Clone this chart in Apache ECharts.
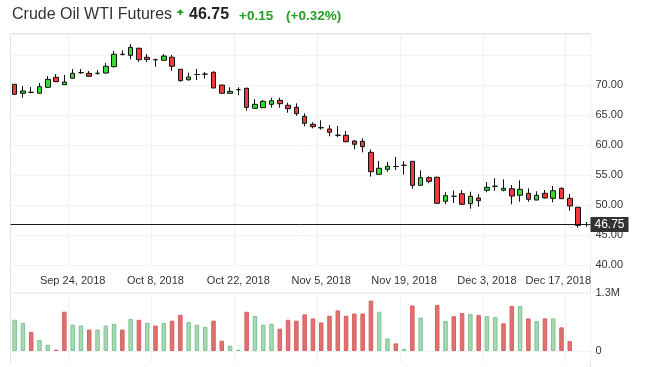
<!DOCTYPE html>
<html><head><meta charset="utf-8">
<script src="https://cdn.jsdelivr.net/npm/echarts@6/dist/echarts.min.js"></script>
<style>html,body{margin:0;padding:0;background:#fff}#c{width:647px;height:367px}</style>
</head><body><div id="c"></div><script>
const dates = ['Sep 13, 2018','Sep 14, 2018','Sep 17, 2018','Sep 18, 2018','Sep 19, 2018','Sep 20, 2018','Sep 21, 2018',
'Sep 24, 2018','Sep 25, 2018','Sep 26, 2018','Sep 27, 2018','Sep 28, 2018','Oct 1, 2018','Oct 2, 2018','Oct 3, 2018','Oct 4, 2018','Oct 5, 2018',
'Oct 8, 2018','Oct 9, 2018','Oct 10, 2018','Oct 11, 2018','Oct 12, 2018','Oct 15, 2018','Oct 16, 2018','Oct 17, 2018','Oct 18, 2018','Oct 19, 2018',
'Oct 22, 2018','Oct 23, 2018','Oct 24, 2018','Oct 25, 2018','Oct 26, 2018','Oct 29, 2018','Oct 30, 2018','Oct 31, 2018','Nov 1, 2018','Nov 2, 2018',
'Nov 5, 2018','Nov 6, 2018','Nov 7, 2018','Nov 8, 2018','Nov 9, 2018','Nov 12, 2018','Nov 13, 2018','Nov 14, 2018','Nov 15, 2018','Nov 16, 2018',
'Nov 19, 2018','Nov 20, 2018','Nov 21, 2018','Nov 22, 2018','Nov 23, 2018','Nov 26, 2018','Nov 27, 2018','Nov 28, 2018','Nov 29, 2018','Nov 30, 2018',
'Dec 3, 2018','Dec 4, 2018','Dec 5, 2018','Dec 6, 2018','Dec 7, 2018','Dec 10, 2018','Dec 11, 2018','Dec 12, 2018','Dec 13, 2018','Dec 14, 2018',
'Dec 17, 2018','Dec 18, 2018','Dec 19, 2018'];
const opens = [70.12,68.62,68.78,68.62,69.62,71.28,70.05,71.12,72.05,71.95,
71.95,72.00,73.05,75.12,74.95,76.12,74.62,74.22,74.12,74.62,
72.62,70.88,71.75,71.80,72.12,70.00,68.62,69.22,69.45,66.12,
66.22,66.78,67.45,66.62,66.28,64.78,63.45,62.88,62.67,61.62,
61.62,60.67,60.62,58.78,55.12,55.95,56.42,56.62,57.28,53.28,
54.55,54.62,50.62,51.45,51.88,50.22,51.17,52.45,53.12,52.45,
52.72,51.62,51.95,50.83,51.95,51.12,52.78,51.12,49.62,46.75];
const closes = [68.45,69.00,68.78,69.72,70.95,70.55,70.50,71.95,72.05,71.45,
71.95,73.12,75.12,75.10,76.28,74.22,74.25,74.20,74.83,73.12,
70.72,71.33,71.75,71.80,69.50,68.62,68.95,69.22,66.28,66.78,
67.28,67.38,66.88,66.05,65.22,63.62,63.05,62.88,62.12,61.62,
60.55,60.12,59.72,55.55,56.12,56.45,56.42,56.62,53.28,54.55,
53.95,50.28,51.55,51.45,50.12,51.45,50.72,52.95,53.12,52.78,
51.50,52.62,50.95,51.62,51.17,52.38,51.05,49.83,46.60,46.75];
const lows = [68.42,67.88,68.60,68.60,69.50,70.50,70.00,71.10,71.88,71.40,
71.70,71.90,72.95,74.90,74.28,73.88,73.83,73.05,74.10,72.38,
70.55,70.72,70.83,71.05,69.50,68.60,68.60,68.28,65.72,66.10,
66.20,66.22,66.22,65.38,64.88,63.12,62.78,62.55,61.45,61.28,
60.45,59.28,58.78,54.72,55.10,55.55,55.83,55.05,52.72,53.20,
53.62,50.20,50.12,50.33,50.00,49.38,49.72,52.12,52.38,52.28,
50.12,50.55,50.55,50.80,51.10,50.45,51.00,49.05,46.22,46.38];
const highs = [70.12,69.83,69.67,70.33,71.50,71.83,71.67,72.67,72.67,72.33,
72.50,73.67,75.67,75.78,76.83,76.20,75.17,74.38,75.17,75.00,
72.62,72.05,72.67,72.17,72.28,70.00,69.62,69.62,69.55,67.62,
67.50,67.88,67.88,67.05,66.95,65.28,63.78,64.12,63.33,63.17,
62.33,60.83,61.12,59.28,57.33,57.17,58.00,57.28,57.28,55.78,
54.78,54.72,52.12,52.38,52.50,52.22,51.83,53.83,54.45,54.28,
53.33,54.12,52.78,52.28,52.50,53.17,52.95,51.83,49.72,47.17];
// volume in millions of contracts
const volumes = [0.70,0.63,0.43,0.25,0.14,0.03,0.88,0.59,0.57,0.48,
0.48,0.57,0.61,0.48,0.72,0.70,0.63,0.57,0.63,0.68,
0.81,0.65,0.59,0.54,0.68,0.23,0.12,0.03,0.88,0.79,
0.59,0.61,0.50,0.70,0.68,0.82,0.73,0.64,0.79,0.91,
0.79,0.84,0.84,1.13,0.88,0.28,0.17,0.05,1.02,0.75,
null,1.03,0.67,0.78,0.85,0.83,0.81,0.78,0.76,0.62,
1.01,1.01,0.73,0.67,0.73,0.73,0.53,0.22,null,null];
const prevClose = 68.2;
const tickDates = ['Sep 24, 2018','Oct 8, 2018','Oct 22, 2018','Nov 5, 2018','Nov 19, 2018','Dec 3, 2018','Dec 17, 2018'];
const hiddenPriceLabels = [75];
const volumeMax = 1.3;
const title = 'Crude Oil WTI Futures';
const lastPrice = 46.75, change = 0.15, changePct = 0.32;

const FONT = 'Liberation Sans, Arial, sans-serif';
const GREEN_TXT = '#23a023';
const FRAME = '#e4e4e4';
const GRID = '#f2f2f2';

const candleData = dates.map((d, i) => [opens[i], closes[i], lows[i], highs[i]]);
const volData = volumes.map((v, i) => {
  const prev = i === 0 ? prevClose : closes[i - 1];
  const up = closes[i] >= prev;
  return {
    value: v,
    itemStyle: up ? {color: '#a6d9b3', borderColor: '#7fc393'} : {color: '#e07272', borderColor: '#d75e5e'}
  };
});
const isTick = (idx, val) => tickDates.indexOf(val) >= 0;

const chart = echarts.init(document.getElementById('c'), null, {renderer: 'canvas'});
const L = 10.5, R = 56.5;
chart.setOption({
  animation: false,
  textStyle: {fontFamily: FONT},
  grid: [
    {left: L, right: R, top: 34, height: 231},
    {left: L, right: R, top: 293, height: 58},
    {left: L, right: R, top: 351, height: 12}
  ],
  xAxis: [
    {type: 'category', gridIndex: 0, data: dates, boundaryGap: true,
     axisLine: {show: false}, axisTick: {show: false},
     axisLabel: {interval: isTick, color: '#333', fontSize: 11, margin: 10, fontFamily: FONT,
       formatter: v => v === tickDates[tickDates.length - 1] ? '{s|' + v + '}' : v,
       rich: {s: {padding: [0, 23, 0, 0], color: '#333', fontSize: 11, fontFamily: FONT}}},
     splitLine: {show: true, interval: isTick, lineStyle: {color: GRID, width: 1}}},
    {type: 'category', gridIndex: 1, data: dates, boundaryGap: true,
     axisLine: {show: false}, axisTick: {show: false}, axisLabel: {show: false},
     splitLine: {show: true, interval: isTick, lineStyle: {color: GRID, width: 1}}},
    {type: 'category', gridIndex: 2, data: dates, boundaryGap: true,
     axisLine: {show: false}, axisTick: {show: false}, axisLabel: {show: false},
     splitLine: {show: true, interval: isTick, lineStyle: {color: GRID, width: 1}}}
  ],
  yAxis: [
    {type: 'value', gridIndex: 0, position: 'right', min: 40, max: 78.5, interval: 5,
     axisLine: {show: false}, axisTick: {show: false},
     axisLabel: {color: '#333', fontSize: 11, margin: 5, fontFamily: FONT, showMaxLabel: false,
       formatter: v => hiddenPriceLabels.indexOf(v) >= 0 ? '' : v.toFixed(2)},
     splitLine: {show: true, lineStyle: {color: GRID, width: 1}}},
    {type: 'value', gridIndex: 1, position: 'right', min: 0, max: volumeMax, interval: volumeMax,
     axisLine: {show: false}, axisTick: {show: false},
     axisLabel: {color: '#333', fontSize: 11, margin: 5, fontFamily: FONT,
       formatter: v => v === 0 ? '0' : v + 'M'},
     splitLine: {show: true, lineStyle: {color: GRID, width: 1}}},
    {type: 'value', gridIndex: 2, min: 0, max: 1, show: false}
  ],
  series: [
    {type: 'candlestick', xAxisIndex: 0, yAxisIndex: 0, data: candleData, barWidth: 5,
     itemStyle: {color: '#33dd33', color0: '#f23a3a', borderColor: '#111', borderColor0: '#111', borderWidth: 1},
     markLine: {symbol: 'none', silent: true, animation: false,
       lineStyle: {color: '#1a1a1a', width: 1, type: 'solid'},
       label: {position: 'end', distance: 0, formatter: lastPrice.toFixed(2), backgroundColor: '#333',
         color: '#fff', padding: [2, 4, 1, 4], fontSize: 12, fontFamily: FONT},
       emphasis: {disabled: true},
       data: [{yAxis: lastPrice}]}},
    {type: 'bar', xAxisIndex: 1, yAxisIndex: 1, data: volData, barWidth: 4.5,
     itemStyle: {borderWidth: 1}}
  ],
  graphic: [
    {type: 'line', shape: {x1: 10.5, y1: 33.5, x2: 10.5, y2: 363}, style: {stroke: FRAME, lineWidth: 1}, silent: true},
    {type: 'line', shape: {x1: 590.5, y1: 33.5, x2: 590.5, y2: 367}, style: {stroke: '#dfe3ea', lineWidth: 1}, silent: true},
    {type: 'line', shape: {x1: 10.5, y1: 33.5, x2: 590.5, y2: 33.5}, style: {stroke: FRAME, lineWidth: 1}, silent: true},
    {type: 'line', shape: {x1: 10.5, y1: 265.5, x2: 590.5, y2: 265.5}, style: {stroke: GRID, lineWidth: 1}, silent: true},
    {type: 'line', shape: {x1: 10.5, y1: 292.5, x2: 590.5, y2: 292.5}, style: {stroke: GRID, lineWidth: 1}, silent: true},
    {type: 'text', left: 12, top: 7, style: {text: title, fill: '#333', font: '16px ' + FONT}},
    {type: 'polygon', shape: {points: [[180.3, 9.3], [184, 13], [181.3, 13], [181.3, 15], [179.3, 15], [179.3, 13], [176.7, 13]]},
     style: {fill: GREEN_TXT}},
    {type: 'text', left: 189, top: 7, style: {text: lastPrice.toFixed(2), fill: '#222', font: 'bold 16px ' + FONT}},
    {type: 'text', left: 239, top: 9, style: {text: '+' + change.toFixed(2), fill: GREEN_TXT, font: 'bold 13.5px ' + FONT}},
    {type: 'text', left: 286, top: 9, style: {text: '(+' + changePct.toFixed(2) + '%)', fill: GREEN_TXT, font: 'bold 13.5px ' + FONT}}
  ]
});
</script></body></html>
